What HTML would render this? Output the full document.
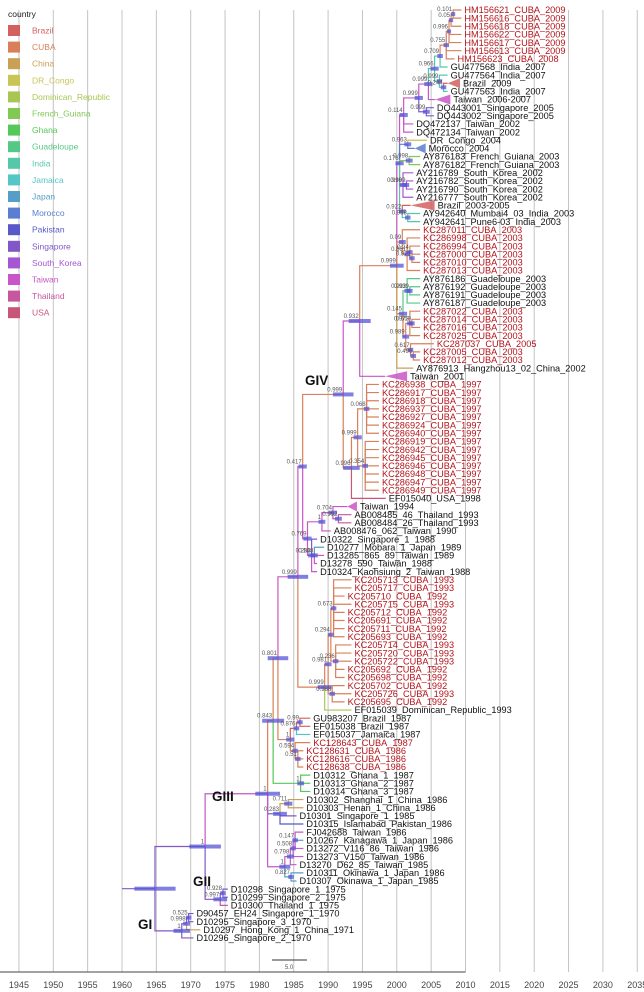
<!DOCTYPE html>
<html><head><meta charset="utf-8"><style>
html,body{margin:0;padding:0;background:#fff;}
svg{display:block;font-family:"Liberation Sans",Arial,sans-serif;}
</style></head><body>
<svg id="chart" width="644" height="992" viewBox="0 0 644 992"></svg>
<script>
const countryNames=["Brazil","CUBA","China","DR_Congo","Dominican_Republic","French_Guiana","Ghana","Guadeloupe","India","Jamaica","Japan","Morocco","Pakistan","Singapore","South_Korea","Taiwan","Thailand","USA"];
const countryColors=["#d35f5f","#d9805a","#c9a055","#c8c455","#a9c655","#82c855","#55c85a","#55c885","#55c8aa","#55c6c6","#559ec8","#5a7ed2","#5858c8","#8258c8","#a656d2","#c856c8","#c8569e","#c85678"];
const tickYears=[1945,1950,1955,1960,1965,1970,1975,1980,1985,1990,1995,2000,2005,2010,2015,2020,2025,2030,2035];

const nodeIds=["root","A","GI","gi1","gi2","GII","gii1","B","C","D","H","F","GIV","N932","N2k","TC","T1","T2","T3","T5","T55","cu1","cu2","cu3","cu4","T6","nB","nDQ","nAf","nFG","nSK","nSK2","nBI","nBI2","C1","C1a","C1b","C1c","C2","Gd","Gd2","C2b","C2c","C2d","C2e","C2f","N996","c97","c97a","c97b","G","g1","g2","g3","g4","g5","K","k1","k2","k3","k5","k4","E","e1","e2","e3","e4","G2","P","p1","T","t1","t2","t3","t4"];
const nodeParents=[null,"root","root","GI","gi1","A","GII","A","B","C","D","H","F","GIV","N932","N2k","TC","T1","T2","T3","T5","T55","cu1","cu2","cu3","T5","T6","T2","TC","TC","TC","nSK","TC","nBI","N2k","C1","C1a","C1b","N2k","C2","Gd","C2","C2b","C2c","C2b","C2e","GIV","N996","c97","c97","F","G","g1","g2","G","g4","H","K","k1","k2","k2","k1","D","E","e1","E","e3","C","B","P","B","T","t1","t2","T"];
const nodeDates=[1964.8,1972.1,1968.7,1969.4,1969.7,1974.3,1974.7,1981.2,1982.0,1982.7,1985.6,1986.3,1992.2,1994.6,2000.0,2000.4,2001.0,2003.2,2004.6,2005.5,2006.3,2007.2,2007.6,2007.9,2008.2,2006.2,2006.8,2004.3,2001.6,2001.8,2000.9,2001.4,2000.8,2001.6,2000.8,2001.5,2001.9,2002.2,2000.9,2001.5,2001.9,2001.3,2001.9,2002.2,2002.0,2002.4,1993.4,1994.3,1995.6,1995.4,1987.0,1989.1,1990.7,1991.5,1987.6,1988.0,1989.5,1990.0,1990.4,1990.8,1991.1,1990.6,1984.5,1985.4,1985.9,1985.2,1985.6,1986.0,1983.0,1984.2,1983.7,1984.5,1984.9,1985.2,1984.6];
const nodePosts=["","1","1","0.998","0.525","0.997","0.928","1","0.843","0.801","0.999","0.417","0.999","0.932","0.999","0.176","0.114","0.999","0.999","0.966","0.709","0.755","0.996","0.05","0.101","0.999","0.244","0.999","0.963","0.998","0.998","0.999","0.922","0.998","0.09","0.861","0.24","0.971","0.145","0.993","0.939","0.989","0.973","0.559","0.617","0.496","0.996","0.999","0.068","0.354","0.769","1","0.704","0.992","0.283","0.548","0.999","0.981","0.294","0.673","0.236","0.988","1","0.876","0.99","0.594","0.51","1","0.283","0.711","1","0.798","0.508","0.147","0.827"];
const nodeHpd=[3,2.3,1.2,0.5,0.4,1.0,0.4,1.8,1.6,1.5,1.5,0.6,1.5,1.6,1.0,0.6,0.6,0.6,0.6,0.6,0.4,0.4,0.3,0.3,0.3,0.4,0.4,0.5,0.5,0.5,0.5,0.4,0.5,0.4,0.5,0.4,0.4,0.4,0.6,0.4,0.4,0.5,0.4,0.4,0.4,0.4,1.2,0.6,0.4,0.4,0.6,0.5,0.6,0.5,0.5,0.5,1.0,0.5,0.4,0.4,0.4,0.4,0.6,0.4,0.4,0.4,0.4,0.5,1.0,0.6,0.8,0.5,0.4,0.4,0.4];
const nodeCountry=["Singapore","Singapore","Singapore","Singapore","Singapore","Singapore","Singapore","Taiwan","CUBA","CUBA","Taiwan","Taiwan","CUBA","Taiwan","CUBA","Taiwan","Taiwan","Taiwan","Taiwan","India","India","CUBA","CUBA","CUBA","CUBA","India","India","Singapore","Morocco","French_Guiana","South_Korea","South_Korea","India","India","CUBA","CUBA","CUBA","CUBA","CUBA","Guadeloupe","Guadeloupe","CUBA","CUBA","CUBA","CUBA","CUBA","CUBA","CUBA","CUBA","CUBA","Taiwan","Taiwan","Taiwan","Thailand","Taiwan","Taiwan","CUBA","CUBA","CUBA","CUBA","CUBA","CUBA","CUBA","Brazil","Brazil","CUBA","CUBA","Ghana","Pakistan","China","Taiwan","Taiwan","Taiwan","Taiwan","Japan"];

const leafNames=["HM156621_CUBA_2009","HM156616_CUBA_2009","HM156618_CUBA_2009","HM156622_CUBA_2009","HM156617_CUBA_2009","HM156613_CUBA_2009","HM156623_CUBA_2008","GU477568_India_2007","GU477564_India_2007","Brazil_2009","GU477563_India_2007","Taiwan_2006-2007","DQ443001_Singapore_2005","DQ443002_Singapore_2005","DQ472137_Taiwan_2002","DQ472134_Taiwan_2002","DR_Congo_2004","Morocco_2004","AY876183_French_Guiana_2003","AY876182_French_Guiana_2003","AY216789_South_Korea_2002","AY216782_South_Korea_2002","AY216790_South_Korea_2002","AY216777_South_Korea_2002","Brazil_2003-2005","AY942640_Mumbai4_03_India_2003","AY942641_Pune6-03_India_2003","KC287011_CUBA_2003","KC286998_CUBA_2003","KC286994_CUBA_2003","KC287000_CUBA_2003","KC287010_CUBA_2003","KC287013_CUBA_2003","AY876186_Guadeloupe_2003","AY876192_Guadeloupe_2003","AY876191_Guadeloupe_2003","AY876187_Guadeloupe_2003","KC287022_CUBA_2003","KC287014_CUBA_2003","KC287016_CUBA_2003","KC287025_CUBA_2003","KC287037_CUBA_2005","KC287005_CUBA_2003","KC287012_CUBA_2003","AY876913_Hangzhou13_02_China_2002","Taiwan_2001","KC286938_CUBA_1997","KC286917_CUBA_1997","KC286918_CUBA_1997","KC286937_CUBA_1997","KC286927_CUBA_1997","KC286924_CUBA_1997","KC286940_CUBA_1997","KC286919_CUBA_1997","KC286942_CUBA_1997","KC286945_CUBA_1997","KC286946_CUBA_1997","KC286948_CUBA_1997","KC286947_CUBA_1997","KC286949_CUBA_1997","EF015040_USA_1998","Taiwan_1994","AB008485_46_Thailand_1993","AB008484_26_Thailand_1993","AB008476_062_Taiwan_1990","D10322_Singapore_1_1988","D10277_Mobara_1_Japan_1989","D13285_865_89_Taiwan_1989","D13278_590_Taiwan_1988","D10324_Kaohsiung_2_Taiwan_1988","KC205713_CUBA_1993","KC205717_CUBA_1993","KC205710_CUBA_1992","KC205715_CUBA_1993","KC205712_CUBA_1992","KC205691_CUBA_1992","KC205711_CUBA_1992","KC205693_CUBA_1992","KC205714_CUBA_1993","KC205720_CUBA_1993","KC205722_CUBA_1993","KC205692_CUBA_1992","KC205698_CUBA_1992","KC205702_CUBA_1992","KC205726_CUBA_1993","KC205695_CUBA_1992","EF015039_Dominican_Republic_1993","GU983207_Brazil_1987","EF015038_Brazil_1987","EF015037_Jamaica_1987","KC128643_CUBA_1987","KC128631_CUBA_1986","KC128616_CUBA_1986","KC128638_CUBA_1986","D10312_Ghana_1_1987","D10313_Ghana_2_1987","D10314_Ghana_3_1987","D10302_Shanghai_1_China_1986","D10303_Henan_1_China_1986","D10301_Singapore_1_1985","D10315_Islamabad_Pakistan_1986","FJ042688_Taiwan_1986","D10267_Kanagawa_1_Japan_1986","D13272_V116_86_Taiwan_1986","D13273_V150_Taiwan_1986","D13270_D62_85_Taiwan_1985","D10311_Okinawa_1_Japan_1986","D10307_Okinawa_1_Japan_1985","D10298_Singapore_1_1975","D10299_Singapore_2_1975","D10300_Thailand_1_1975","D90457_EH24_Singapore_1_1970","D10295_Singapore_3_1970","D10297_Hong_Kong_1_China_1971","D10296_Singapore_2_1970"];
const leafParents=["cu4","cu4","cu3","cu2","cu2","cu1","cu1","T55","T6","nB","nB","T3","nDQ","nDQ","T1","T1","nAf","nAf","nFG","nFG","nSK","nSK2","nSK2","nSK","nBI","nBI2","nBI2","C1","C1a","C1b","C1c","C1c","C1a","Gd","Gd2","Gd2","Gd","C2c","C2d","C2d","C2c","C2e","C2f","C2f","N2k","N932","c97a","c97a","c97a","c97a","c97a","c97a","c97a","c97b","c97b","c97b","c97b","c97b","c97b","c97b","N996","g2","g3","g3","g1","g4","g5","g5","g5","g4","k3","k3","k3","k3","k3","k3","k3","k3","k5","k5","k5","k5","k5","k4","k4","k4","K","e2","e2","e1","e3","e4","e4","e4","G2","G2","G2","p1","p1","P","P","t3","t3","t3","t2","t1","t4","t4","gii1","gii1","GII","gi2","gi2","gi1","GI"];
const leafDates=[2009.4,2009.4,2009.4,2009.4,2009.4,2009.4,2008.4,2007.4,2007.4,2007.4,2007.4,2005.6,2005.4,2005.4,2002.4,2002.4,2004.4,2002.6,2003.4,2003.4,2002.4,2002.4,2002.4,2002.4,2002.0,2003.4,2003.4,2003.4,2003.4,2003.4,2003.4,2003.4,2003.4,2003.4,2003.4,2003.4,2003.4,2003.4,2003.4,2003.4,2003.4,2005.4,2003.4,2003.4,2002.4,1998.3,1997.4,1997.4,1997.4,1997.4,1997.4,1997.4,1997.4,1997.4,1997.4,1997.4,1997.4,1997.4,1997.4,1997.4,1998.4,1992.8,1993.4,1993.4,1990.4,1988.4,1989.4,1989.4,1988.4,1988.4,1993.4,1993.4,1992.4,1993.4,1992.4,1992.4,1992.4,1992.4,1993.4,1993.4,1993.4,1992.4,1992.4,1992.4,1993.4,1992.4,1993.4,1987.4,1987.4,1987.4,1987.4,1986.4,1986.4,1986.4,1987.4,1987.4,1987.4,1986.4,1986.4,1985.4,1986.4,1986.4,1986.4,1986.4,1986.4,1985.4,1986.4,1985.4,1975.4,1975.4,1975.4,1970.4,1970.4,1971.4,1970.4];
const leafCountries=["CUBA","CUBA","CUBA","CUBA","CUBA","CUBA","CUBA","India","India","Brazil","India","Taiwan","Singapore","Singapore","Taiwan","Taiwan","DR_Congo","Morocco","French_Guiana","French_Guiana","South_Korea","South_Korea","South_Korea","South_Korea","Brazil","India","India","CUBA","CUBA","CUBA","CUBA","CUBA","CUBA","Guadeloupe","Guadeloupe","Guadeloupe","Guadeloupe","CUBA","CUBA","CUBA","CUBA","CUBA","CUBA","CUBA","China","Taiwan","CUBA","CUBA","CUBA","CUBA","CUBA","CUBA","CUBA","CUBA","CUBA","CUBA","CUBA","CUBA","CUBA","CUBA","USA","Taiwan","Thailand","Thailand","Taiwan","Singapore","Japan","Taiwan","Taiwan","Taiwan","CUBA","CUBA","CUBA","CUBA","CUBA","CUBA","CUBA","CUBA","CUBA","CUBA","CUBA","CUBA","CUBA","CUBA","CUBA","CUBA","Dominican_Republic","Brazil","Brazil","Jamaica","CUBA","CUBA","CUBA","CUBA","Ghana","Ghana","Ghana","China","China","Singapore","Pakistan","Taiwan","Japan","Taiwan","Taiwan","Taiwan","Japan","Japan","Singapore","Singapore","Thailand","Singapore","Singapore","China","Singapore"];
const leafTriSpan={"Brazil_2009":1.8,"Taiwan_2006-2007":2.2,"Morocco_2004":1.6,"Brazil_2003-2005":3.5,"Taiwan_2001":3.2,"Taiwan_1994":1.4};

const cladeLabels=["GI","GII","GIII","GIV"];

const NS="http://www.w3.org/2000/svg";
const svg=document.getElementById("chart");
function X(year){return 122+(year-1960)*6.87;}
function leafY(i){return 10+i*8.14;}
function col(c){return countryColors[countryNames.indexOf(c)];}
function mk(tag,attrs,parent){const e=document.createElementNS(NS,tag);for(const k in attrs)e.setAttribute(k,attrs[k]);(parent||svg).appendChild(e);return e;}

// grid
const gGrid=mk("g",{});


tickYears.forEach(yr=>{
  const l=mk("line",{x1:X(yr),x2:X(yr),y1:10,y2:972,stroke:"#c4c4c4","stroke-width":1},gGrid);
  
  
});
// axis
const gAxis=mk("g",{});


mk("line",{x1:0,x2:X(2010),y1:972,y2:972,stroke:"#444","stroke-width":1},gAxis);
tickYears.forEach(yr=>{
  const t=mk("text",{x:X(yr),y:988,"font-size":9,"text-anchor":"middle",fill:"#444"},gAxis);
  t.textContent=yr;
  
  
});
// scale bar
const gScale=mk("g",{});


mk("line",{x1:272,x2:307,y1:960,y2:960,stroke:"#333","stroke-width":1},gScale);
const st=mk("text",{x:289,y:969,"font-size":6,"text-anchor":"middle",fill:"#555"},gScale);st.textContent="5.0";

// layout
const pos={};
leafNames.forEach((n,i)=>{pos["L"+i]={x:X(leafDates[i]),y:leafY(i)};});
const children={};
nodeIds.forEach(id=>children[id]=[]);
nodeIds.forEach((id,i)=>{if(nodeParents[i])children[nodeParents[i]].push({type:"n",id:id});});
leafNames.forEach((n,i)=>children[leafParents[i]].push({type:"l",id:"L"+i}));
function nodeY(id){
  const i=nodeIds.indexOf(id);
  if(pos[id])return pos[id].y;
  const ys=children[id].map(c=>c.type==="l"?pos[c.id].y:nodeY(c.id));
  const y=(Math.min(...ys)+Math.max(...ys))/2;
  pos[id]={x:X(nodeDates[i]),y:y};return y;
}
nodeIds.forEach(id=>nodeY(id));

// branches
const gBr=mk("g",{fill:"none","stroke-width":1.2});


nodeIds.forEach((id,i)=>{
  const p=nodeParents[i];if(!p)return;
  const pp=pos[p],c=pos[id];
  const b=mk("path",{d:`M${pp.x},${pp.y}V${c.y}H${c.x}`,stroke:col(nodeCountry[i])},gBr);
  
  
});
// root stem
mk("path",{d:`M${X(1960)},${pos.root.y}H${pos.root.x}`,stroke:col("Singapore")},gBr);
leafNames.forEach((n,i)=>{
  const pp=pos[leafParents[i]],c=pos["L"+i];
  const b=mk("path",{d:`M${pp.x},${pp.y}V${c.y}H${c.x}`,stroke:col(leafCountries[i])},gBr);
  
  
});
// HPD bars
const gH=mk("g",{fill:"#5656d6","fill-opacity":0.75});


nodeIds.forEach((id,i)=>{
  const p=pos[id];const w=nodeHpd[i]*6.87;
  const r=mk("rect",{x:p.x-w,y:p.y-2,width:2*w,height:4},gH);
  
  
});
// posterior labels
const gP=mk("g",{"font-size":6,fill:"#555","text-anchor":"end"});


nodeIds.forEach((id,i)=>{
  if(!nodePosts[i])return;
  const p=pos[id];
  const t=mk("text",{x:p.x-1,y:p.y-3},gP);t.textContent=nodePosts[i];
  
  
});
// leaves
const gL=mk("g",{"font-size":9.2});


leafNames.forEach((n,i)=>{
  const c=pos["L"+i];let tx=c.x+3;
  const span=leafTriSpan[n];
  if(span){
    const bx=X(leafDates[i]+span);
    const tri=mk("polygon",{points:`${c.x},${c.y} ${bx},${c.y-5} ${bx},${c.y+5}`,fill:col(leafCountries[i]),"fill-opacity":0.85},gL);
    
    
    tx=bx+3;
  }
  const t=mk("text",{x:tx,y:c.y+3.2,fill:leafCountries[i]==="CUBA"?"#b3141b":"#111"},gL);
  t.textContent=n;
  
  
});
// clade labels
const cladePos=[[138,929],[193,886],[212,801],[305,385]];
cladeLabels.forEach((c,i)=>{
  const t=mk("text",{x:cladePos[i][0],y:cladePos[i][1],"font-size":13.5,"font-weight":"bold",fill:"#111"});
  t.textContent=c;
  
  
});
// legend
const gLeg=mk("g",{});


const lt=mk("text",{x:8,y:17,"font-size":8.5,fill:"#222"},gLeg);lt.textContent="country";
countryNames.forEach((c,i)=>{
  const y=25+i*16.6;
  const e=mk("g",{},gLeg);
  
  
  mk("rect",{x:8,y:y,width:12,height:11,fill:countryColors[i]},e);
  const t=mk("text",{x:32,y:y+8.5,"font-size":8.5,fill:countryColors[i]},e);t.textContent=c;
});
</script>
</body></html>
